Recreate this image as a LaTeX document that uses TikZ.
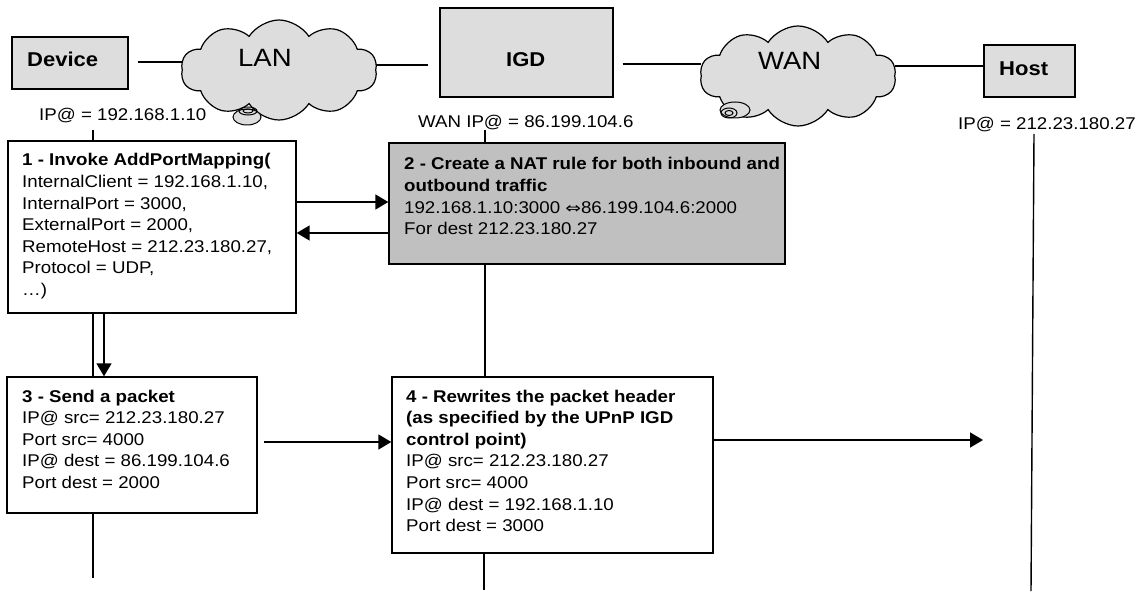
\documentclass[tikz,border=0pt]{standalone}
\usepackage{fontspec}
\setmainfont{Liberation Sans}[FakeStretch=1.1]
\newfontfamily\symfont{DejaVu Sans}[FakeStretch=1.25]
\usetikzlibrary{arrows.meta,shapes.symbols}
\definecolor{lgray}{HTML}{DDDDDD}
\definecolor{mgray}{HTML}{C0C0C0}
\newcommand\mybody{\fontsize{17}{21.6}\selectfont}
\newcommand\mytitle{\fontsize{20}{24}\selectfont\bfseries}
\newcommand\mycloud{\fontsize{25}{30}\selectfont}
\tikzset{
  entity/.style={draw, fill=lgray, line width=1.4pt, inner sep=0},
  stepbox/.style={draw, fill=white, line width=1.4pt, inner sep=0},
  natbox/.style={draw, fill=mgray, line width=1.4pt, inner sep=0},
  txt/.style={anchor=base west, inner sep=0, font=\mybody},
  ttl/.style={anchor=base west, inner sep=0, font=\mytitle},
  netcloud/.style={cloud, cloud puffs=10, cloud puff arc=115, cloud ignores aspect, draw, fill=lgray, line width=1.2pt, inner sep=0},
  link/.style={line width=1.4pt},
  life/.style={line width=1.4pt},
  arr/.style={line width=1.6pt, -{Triangle[length=13pt,width=15pt]}},
}
\begin{document}
\begin{tikzpicture}[x=1pt,y=-1pt]
\useasboundingbox (0,0) rectangle (1138,596);

% top row entities
\node[entity, minimum width=116pt, minimum height=52pt] (device) at (70,63) {};
\node[ttl] (devicet) at (27,67) {Device};
\node[netcloud, minimum width=196pt, minimum height=100pt] (lan) at (279,70) {};
\node[anchor=base west, inner sep=0, font=\mycloud] (lant) at (238,67) {LAN};
\node[entity, minimum width=173pt, minimum height=89pt] (igd) at (526.5,52.5) {};
\node[ttl] (igdt) at (506,67) {IGD};
\node[netcloud, minimum width=196pt, minimum height=100pt] (wan) at (798,76) {};
\node[anchor=base west, inner sep=0, font=\mycloud] (want) at (758,70) {WAN};
\node[entity, minimum width=91pt, minimum height=52pt] (host) at (1029.5,71) {};
\node[ttl] (hostt) at (999,76) {Host};

% cloud tails
\draw[line width=1pt, fill=lgray] (247,117) ellipse [x radius=14, y radius=8];
\draw[line width=1pt] (248,111) ellipse [x radius=9, y radius=4];
\draw[line width=1pt] (248,111) ellipse [x radius=5, y radius=2];
\draw[line width=1pt, fill=lgray] (735,110) ellipse [x radius=15, y radius=8];
\draw[line width=1pt] (729,113) ellipse [x radius=8, y radius=5];
\draw[line width=1pt] (729,113) ellipse [x radius=4, y radius=2.5];

% links
\coordinate (yl1) at (0,62);
\coordinate (yl2) at (0,65);
\coordinate (yl3) at (0,64);
\coordinate (yl4) at (0,66);
\draw[link, shorten <=9pt] (device.east |- yl1) -- (lan.west |- yl1);
\draw[link, shorten >=11pt] (lan.east |- yl2) -- (igd.west |- yl2);
\draw[link, shorten <=9pt] (igd.east |- yl3) -- (wan.west |- yl3);
\draw[link] (wan.east |- yl4) -- (host.west |- yl4);

% address labels
\node[txt] (devip) at (39,121) {IP@ = 192.168.1.10};
\node[txt] (igdip) at (418,128) {WAN IP@ = 86.199.104.6};
\node[txt] (hostip) at (958,130) {IP@ = 212.23.180.27};

% step boxes
\node[stepbox, minimum width=288pt, minimum height=172pt] (box1) at (152,227) {};
\node[txt] (t1) at (22,166) {\parbox[t]{300pt}{\raggedright
  \textbf{1 - Invoke AddPortMapping(}\\
  InternalClient = 192.168.1.10,\\
  InternalPort = 3000,\\
  ExternalPort = 2000,\\
  RemoteHost = 212.23.180.27,\\
  Protocol = UDP,\\
  …)}};
\node[natbox, minimum width=396pt, minimum height=121pt] (box2) at (587,203.5) {};
\node[txt] (t2) at (404,170) {\parbox[t]{400pt}{\raggedright
  \textbf{2 - Create a NAT rule for both inbound and}\\
  \textbf{outbound traffic}\\
  192.168.1.10:3000 {\symfont\fontsize{15}{18}\selectfont ⇔}86.199.104.6:2000\\
  For dest 212.23.180.27}};
\node[stepbox, minimum width=250pt, minimum height=136pt] (box3) at (132,445) {};
\node[txt] (t3) at (22,402) {\parbox[t]{300pt}{\raggedright
  \textbf{3 - Send a packet}\\
  IP@ src= 212.23.180.27\\
  Port src= 4000\\
  IP@ dest = 86.199.104.6\\
  Port dest = 2000}};
\node[stepbox, minimum width=321pt, minimum height=176pt] (box4) at (552.5,465) {};
\node[txt] (t4) at (406,402) {\parbox[t]{320pt}{\raggedright
  \textbf{4 - Rewrites the packet header}\\
  \textbf{(as specified by the UPnP IGD}\\
  \textbf{control point)}\\
  IP@ src= 212.23.180.27\\
  Port src= 4000\\
  IP@ dest = 192.168.1.10\\
  Port dest = 3000}};

% lifelines
\coordinate (devx) at (93,130);
\coordinate (devx2) at (104,0);
\coordinate (devend) at (93,578);
\coordinate (igdx) at (485,130);
\coordinate (igdend) at (484,590);
\coordinate (hosttop) at (1034,134);
\coordinate (hostend) at (1031,591);
\draw[life] (devx) -- (devx |- box1.north);
\draw[life] (devx |- box1.south) -- (devx |- box3.north);
\draw[arr] (devx2 |- box1.south) -- (devx2 |- box3.north);
\draw[life] (devx |- box3.south) -- (devend);
\draw[life] (igdx) -- (igdx |- box2.north);
\draw[life] (igdx |- box2.south) -- (igdx |- box4.north);
\draw[life] (igdend |- box4.south) -- (igdend);
\draw[life] (hosttop) -- (hostend);

% messages
\coordinate (m1) at (0,202);
\coordinate (m2) at (0,233);
\coordinate (m3) at (0,442);
\coordinate (m4) at (983,440);
\draw[arr] (box1.east |- m1) -- (box2.west |- m1);
\draw[arr] (box2.west |- m2) -- (box1.east |- m2);
\draw[arr, shorten <=6pt] (box3.east |- m3) -- (box4.west |- m3);
\draw[arr] (box4.east |- m4) -- (m4);
\end{tikzpicture}
\end{document}
